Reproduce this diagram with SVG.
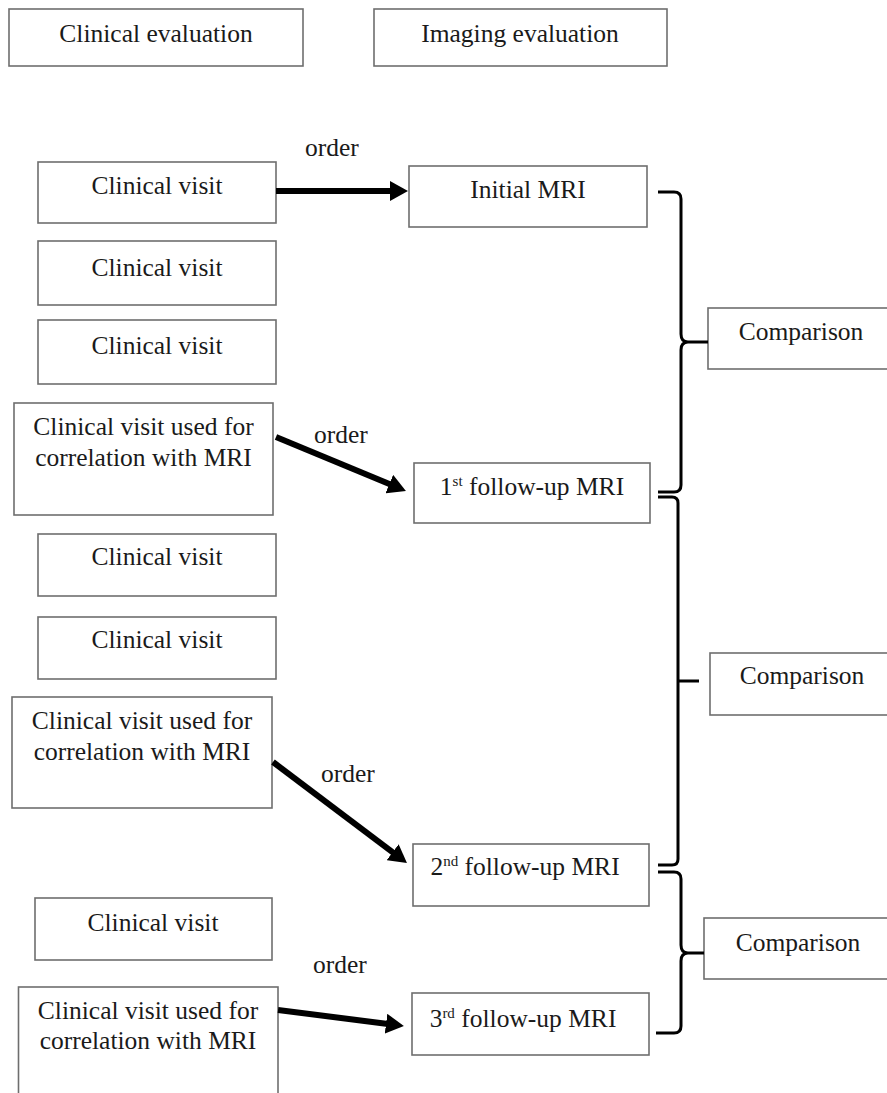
<svg xmlns="http://www.w3.org/2000/svg" width="887" height="1093" viewBox="0 0 887 1093">
<defs>
<style>
.box{fill:#fff;stroke:#6e6e6e;stroke-width:1.6}
.t{font-family:"Liberation Serif","Times New Roman",serif;font-size:25.5px;fill:#1a1a1a;text-anchor:middle}
.lbl{font-family:"Liberation Serif","Times New Roman",serif;font-size:25.5px;fill:#1a1a1a}
.sup{font-size:15px}
.arrow{stroke:#000;stroke-width:6;fill:none}
.brace{stroke:#000;stroke-width:3;fill:none}
</style>
<marker id="ah" markerUnits="userSpaceOnUse" viewBox="0 0 18 20" refX="4" refY="10" markerWidth="18" markerHeight="20" orient="auto">
<path d="M0,0 L18,10 L0,20 z" fill="#000"/>
</marker>
</defs>
<rect width="887" height="1093" fill="#fff"/>

<g id="clinical-evaluation"><rect class="box" x="9" y="9" width="294" height="57"/><text class="t" x="156" y="42">Clinical evaluation</text></g>
<g id="imaging-evaluation"><rect class="box" x="374" y="9" width="293" height="57"/><text class="t" x="520" y="42">Imaging evaluation</text></g>

<g id="visit1"><rect class="box" x="38" y="162" width="238" height="61"/><text class="t" x="157" y="194">Clinical visit</text></g>
<g id="visit2"><rect class="box" x="38" y="241" width="238" height="64"/><text class="t" x="157" y="276">Clinical visit</text></g>
<g id="visit3"><rect class="box" x="38" y="320" width="238" height="64"/><text class="t" x="157" y="354">Clinical visit</text></g>
<g id="corr1"><rect class="box" x="14" y="403" width="259" height="112"/><text class="t" x="143.5" y="435">Clinical visit used for</text><text class="t" x="143.5" y="466">correlation with MRI</text></g>
<g id="visit4"><rect class="box" x="38" y="534" width="238" height="62"/><text class="t" x="157" y="565">Clinical visit</text></g>
<g id="visit5"><rect class="box" x="38" y="617" width="238" height="62"/><text class="t" x="157" y="648">Clinical visit</text></g>
<g id="corr2"><rect class="box" x="12" y="697" width="260" height="111"/><text class="t" x="142" y="729">Clinical visit used for</text><text class="t" x="142" y="760">correlation with MRI</text></g>
<g id="visit6"><rect class="box" x="35" y="898" width="237" height="62"/><text class="t" x="153" y="931">Clinical visit</text></g>
<g id="corr3"><rect class="box" x="18.5" y="987" width="259.5" height="120"/><text class="t" x="148" y="1019">Clinical visit used for</text><text class="t" x="148" y="1049">correlation with MRI</text></g>

<g id="initial-mri"><rect class="box" x="409" y="166" width="238" height="61"/><text class="t" x="528" y="198">Initial MRI</text></g>
<g id="mri1"><rect class="box" x="414" y="463" width="236" height="60"/><text class="t" x="532" y="495">1<tspan class="sup" dy="-9">st</tspan><tspan dy="9"> follow-up MRI</tspan></text></g>
<g id="mri2"><rect class="box" x="413" y="844" width="236" height="62"/><text class="t" x="525" y="875">2<tspan class="sup" dy="-9">nd</tspan><tspan dy="9"> follow-up MRI</tspan></text></g>
<g id="mri3"><rect class="box" x="412" y="993" width="237" height="62"/><text class="t" x="523" y="1027">3<tspan class="sup" dy="-9">rd</tspan><tspan dy="9"> follow-up MRI</tspan></text></g>

<g id="comparison1"><rect class="box" x="708" y="308" width="190" height="61"/><text class="t" x="801" y="340">Comparison</text></g>
<g id="comparison2"><rect class="box" x="710" y="653" width="190" height="62"/><text class="t" x="802" y="684">Comparison</text></g>
<g id="comparison3"><rect class="box" x="704" y="918" width="190" height="61"/><text class="t" x="798" y="951">Comparison</text></g>

<g id="connectors">
<line class="arrow" x1="276" y1="191" x2="394" y2="191" marker-end="url(#ah)"/>
<line class="arrow" x1="276" y1="437" x2="393" y2="485.6" marker-end="url(#ah)"/>
<line class="arrow" x1="273" y1="762" x2="395.8" y2="854.6" marker-end="url(#ah)"/>
<line class="arrow" x1="278" y1="1010" x2="390" y2="1024.2" marker-end="url(#ah)"/>
<text class="lbl" x="305" y="156">order</text>
<text class="lbl" x="314" y="443">order</text>
<text class="lbl" x="321" y="782">order</text>
<text class="lbl" x="313" y="973">order</text>
<path class="brace" d="M658,192 H674 Q681,192 681,199 V334 Q681,342 688,342 H708 M688,342 Q681,342 681,350 V485 Q681,492 674,492 H658"/>
<path class="brace" d="M658,497 H672 Q678,497 678,503 V859 Q678,865 672,865 H658 M678,681 H699"/>
<path class="brace" d="M658,872 H674 Q681,872 681,879 V945 Q681,953 688,953 H704 M688,953 Q681,953 681,961 V1026 Q681,1033 674,1033 H656"/>
</g>
</svg>
